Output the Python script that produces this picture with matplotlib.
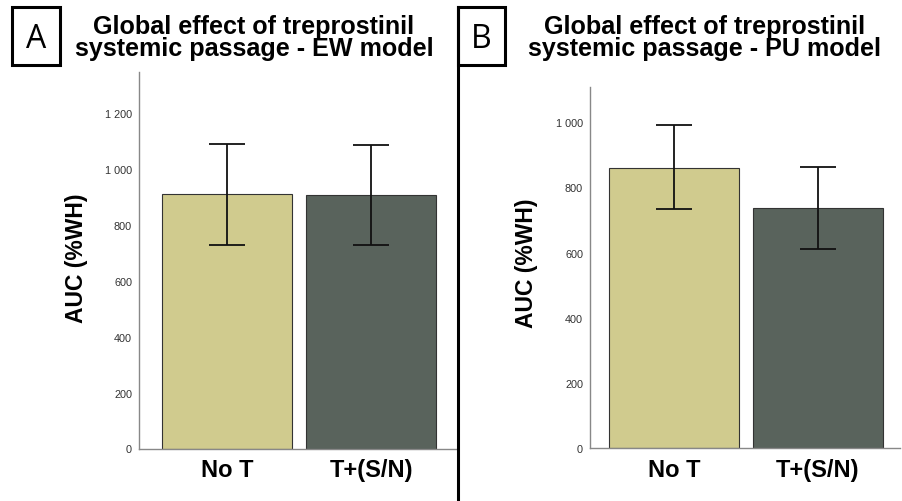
import matplotlib.pyplot as plt
from matplotlib.patches import Rectangle
from matplotlib.lines import Line2D

categories = ['No T', 'T+(S/N)']
bar_colors = ['#d0cb8e', '#59635c']

# panel A - EW model
ew_mean = [908, 904]
ew_low = [728, 728]
ew_high = [1087, 1084]
ew_ticks = [0, 200, 400, 600, 800, 1000, 1200]

# panel B - PU model
pu_mean = [860, 737]
pu_low = [734, 610]
pu_high = [991, 864]
pu_ticks = [0, 200, 400, 600, 800, 1000]

W, H = 902, 502
fig = plt.figure(figsize=(W / 100, H / 100), dpi=100)


def px_axes(x0, y0, x1, y1):
    return fig.add_axes([x0 / W, (H - y1) / H, (x1 - x0) / W, (y1 - y0) / H])


def panel(ax, mean, low, high, ticks, ylim, xlim):
    x = list(range(len(categories)))
    ax.bar(x, mean, width=0.9, color=bar_colors, edgecolor='#333333', linewidth=0.8, zorder=2)
    yerr = [[m - l for m, l in zip(mean, low)], [h - m for m, h in zip(mean, high)]]
    ax.errorbar(x, mean, yerr=yerr, fmt='none', ecolor='#111111', elinewidth=1.3,
                capsize=13, capthick=1.3, zorder=3)
    ax.set_ylim(*ylim)
    ax.set_xlim(*xlim)
    ax.set_yticks(ticks)
    ax.set_yticklabels([f'{t:,}'.replace(',', ' ') for t in ticks],
                       fontsize=7.8, color='#333333', family='Liberation Sans')
    ax.set_xticks(x)
    ax.set_xticklabels(categories, fontsize=17, fontweight='bold', family='Liberation Sans')
    ax.tick_params(axis='y', length=0, pad=5)
    ax.tick_params(axis='x', length=0, pad=7)
    for s in ['top', 'right']:
        ax.spines[s].set_visible(False)
    for s in ['left', 'bottom']:
        ax.spines[s].set_color('#888888')
        ax.spines[s].set_linewidth(1.0)


axA = px_axes(139, 73, 458, 449.5)
panel(axA, ew_mean, ew_low, ew_high, ew_ticks, (0, 1345), (-0.611, 1.604))
axB = px_axes(590, 88, 900, 449.3)
panel(axB, pu_mean, pu_low, pu_high, pu_ticks, (0, 1108), (-0.583, 1.57))

for cx, cy in [(76, 258), (526, 263)]:
    fig.text(cx / W, 1 - cy / H, 'AUC (%WH)', rotation=90, ha='center', va='center',
             fontsize=16.5, fontweight='bold', family='Liberation Sans')

titles = ['Global effect of treprostinil\nsystemic passage - EW model',
          'Global effect of treprostinil\nsystemic passage - PU model']
for cx, t in zip([254, 705], titles):
    fig.text(cx / W, 1 - 38 / H, t, ha='center', va='center', fontsize=18.1,
             fontweight='bold', family='Liberation Sans', linespacing=0.86)

# panel letters in boxes
for (x0, x1), letter in zip([(12, 60), (458, 505)], ['A', 'B']):
    fig.add_artist(Rectangle((x0 / W, 1 - 66 / H), (x1 - x0) / W, 58 / H,
                             transform=fig.transFigure, fill=False,
                             edgecolor='black', linewidth=2.2))
    fig.text((x0 + x1) / 2 / W, 1 - 39 / H, letter, ha='center', va='center',
             fontsize=23, family='Open Sans')

# divider between panels
fig.add_artist(Line2D([458 / W, 458 / W], [1 - 8 / H, 0], transform=fig.transFigure,
                      color='black', linewidth=2.2))

fig.savefig('out.png', dpi=100)
